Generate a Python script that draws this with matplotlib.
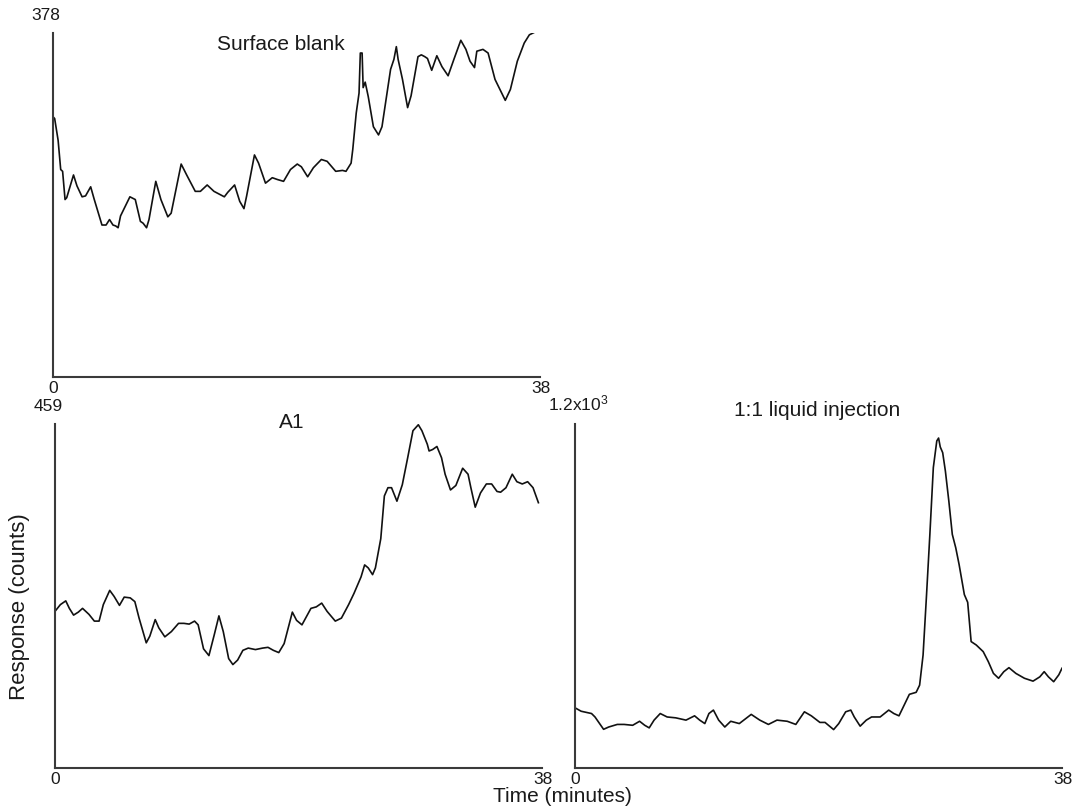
import matplotlib
matplotlib.use("Agg")
import matplotlib.pyplot as plt
import numpy as np

plt.rcParams['font.family'] = ['Liberation Sans', 'DejaVu Sans']
plt.rcParams['mathtext.default'] = 'regular'

# --- data (time in minutes, response in counts) ---
blank_t = [0, 0.13, 0.4, 0.6, 0.75, 0.94, 1.07, 1.6, 1.87, 2.27, 2.54, 2.94, 3.2,
           3.82, 4.14, 4.41, 4.68, 4.89, 5.08, 5.27, 6.0, 6.42, 6.82, 7.03, 7.3,
           7.49, 8.02, 8.42, 8.96, 9.22, 10.0, 10.43, 11.1, 11.5, 12.03, 12.56,
           13.37, 13.64, 14.17, 14.57, 14.9, 15.11, 15.72, 16.04, 16.58, 17.11,
           17.51, 17.99, 18.53, 19.06, 19.38, 19.87, 20.32, 20.94, 21.39, 22.06,
           22.59, 22.86, 23.26, 23.39, 23.66, 23.88, 23.98, 24.12, 24.2, 24.36,
           24.6, 25.0, 25.4, 25.67, 26.34, 26.6, 26.79, 26.93, 27.27, 27.67,
           27.94, 28.48, 28.74, 29.01, 29.22, 29.55, 29.95, 30.35, 30.83, 31.28,
           31.82, 32.22, 32.54, 32.89, 33.07, 33.55, 33.95, 34.49, 35.29, 35.69,
           36.23, 36.77, 37.17, 37.6, 38.0]
blank_y = [286, 284, 260, 228, 226, 195, 197, 222, 210, 198, 199, 209, 196, 167,
           167, 173, 167, 166, 164, 177, 198, 195, 171, 169, 164, 173, 215, 195,
           176, 180, 234, 222, 204, 204, 211, 204, 198, 203, 211, 193, 185, 199,
           244, 235, 213, 219, 217, 215, 228, 234, 231, 220, 230, 239, 237, 226,
           227, 226, 235, 250, 290, 312, 356, 356, 318, 324, 308, 275, 266, 275,
           338, 349, 363, 349, 327, 296, 309, 352, 354, 352, 350, 337, 353, 341,
           331, 349, 370, 360, 347, 340, 358, 360, 356, 327, 304, 316, 347, 367,
           376, 379, 380]

a1_t = [0, 0.42, 0.84, 1.12, 1.45, 1.82, 2.15, 2.65, 3.07, 3.44, 3.77, 4.27,
        4.61, 5.03, 5.4, 5.87, 6.23, 6.56, 7.12, 7.4, 7.82, 8.1, 8.57, 9.08, 9.64,
        10.06, 10.47, 10.89, 11.17, 11.59, 12.01, 12.43, 12.79, 13.13, 13.55,
        13.88, 14.25, 14.66, 15.08, 15.64, 16.2, 16.62, 17.04, 17.46, 17.88,
        18.52, 18.85, 19.27, 19.97, 20.39, 20.81, 21.23, 21.87, 22.35, 22.91,
        23.33, 23.88, 24.16, 24.44, 24.78, 25.0, 25.42, 25.7, 25.98, 26.26,
        26.68, 27.1, 27.52, 27.93, 28.35, 28.63, 29.05, 29.19, 29.47, 29.8,
        30.16, 30.44, 30.86, 31.28, 31.81, 32.23, 32.45, 32.79, 33.2, 33.66,
        34.07, 34.49, 34.77, 35.19, 35.68, 36.04, 36.46, 36.88, 37.3, 37.72]
a1_y = [209, 218, 223, 213, 204, 208, 213, 205, 196, 196, 218, 237, 229, 217,
        228, 227, 222, 200, 167, 176, 198, 187, 175, 182, 193, 193, 192, 196,
        191, 159, 150, 178, 203, 182, 146, 138, 144, 157, 160, 158, 160, 161,
        157, 154, 166, 208, 197, 191, 213, 215, 220, 209, 196, 200, 218, 233,
        255, 271, 267, 258, 267, 306, 363, 374, 374, 356, 378, 414, 450, 458,
        450, 432, 423, 425, 429, 414, 392, 371, 377, 400, 392, 374, 348, 367,
        379, 379, 369, 368, 374, 392, 382, 379, 382, 374, 354]

liq_t = [0, 0.48, 1.29, 1.56, 2.23, 2.63, 3.3, 3.83, 4.5, 5.04, 5.44, 5.79, 6.17,
         6.65, 7.19, 7.86, 8.66, 9.33, 9.73, 10.13, 10.45, 10.8, 11.21, 11.69,
         12.15, 12.82, 13.75, 14.42, 15.09, 15.76, 16.56, 17.23, 17.9, 18.44,
         19.11, 19.51, 20.18, 20.58, 21.12, 21.52, 21.79, 22.25, 22.73, 23.14,
         23.81, 24.48, 24.88, 25.28, 25.68, 26.09, 26.62, 26.89, 27.16, 27.43,
         27.69, 27.96, 28.23, 28.37, 28.5, 28.69, 28.9, 29.17, 29.44, 29.71,
         29.97, 30.38, 30.64, 30.91, 31.31, 31.85, 32.25, 32.65, 33.05, 33.46,
         33.86, 34.4, 35.07, 35.74, 36.27, 36.61, 36.94, 37.35, 37.75, 38.0]
liq_y = [210, 198, 190, 178, 135, 143, 152, 152, 149, 163, 149, 140, 167, 190,
         178, 175, 167, 182, 167, 155, 190, 202, 167, 143, 163, 155, 187, 167,
         152, 167, 163, 152, 196, 182, 159, 159, 134, 155, 196, 202, 178, 146,
         167, 178, 178, 202, 190, 182, 219, 257, 264, 289, 394, 604, 815, 1048,
         1141, 1151, 1120, 1100, 1036, 931, 815, 768, 710, 605, 578, 441, 429,
         406, 371, 330, 313, 336, 350, 330, 313, 303, 318, 336, 318, 301, 325,
         348]

t_max = 38
panels = [
    # (times, counts, y max, y max label, title)
    (blank_t, blank_y, 378, "378", "Surface blank"),
    (a1_t, a1_y, 459, "459", "A1"),
    (liq_t, liq_y, 1200, "1.2x10$^3$", "1:1 liquid injection"),
]

W, H = 1074, 807
fig = plt.figure(figsize=(W / 100, H / 100), dpi=100)

# axes boxes in pixels: left, top, right, bottom
boxes = [(53, 33, 540, 377), (55, 424, 542, 768), (575, 424, 1062, 768)]
# title centres in pixels
title_pos = [(281, 44), (292, 423), (817, 410)]

txt_col = "#1a1a1a"
for (t, y, ymax, ylab, title), (l, tp, r, b), (tx, ty) in zip(panels, boxes, title_pos):
    ax = fig.add_axes([l / W, 1 - b / H, (r - l) / W, (b - tp) / H])
    ax.plot(t, y, color="#111111", lw=1.2, solid_joinstyle="round")
    ax.set_xlim(0, t_max)
    ax.set_ylim(0, ymax)
    for s in ("top", "right"):
        ax.spines[s].set_visible(False)
    for s in ("left", "bottom"):
        ax.spines[s].set_color("#3a3a3a")
        ax.spines[s].set_linewidth(1.5)
    ax.set_xticks([])
    ax.set_yticks([])
    ax.patch.set_visible(False)

    # end labels
    ax.text(0, -0.012, "0", transform=ax.transAxes, ha="center", va="top",
            fontsize=12.5, color=txt_col)
    ax.text(1.003, -0.012, str(t_max), transform=ax.transAxes, ha="center", va="top",
            fontsize=12.5, color=txt_col)
    ax.text(-0.015 if ymax < 1000 else 0.006, 1.03, ylab, transform=ax.transAxes,
            ha="center", va="bottom", fontsize=12.5, color=txt_col)
    fig.text(tx / W, 1 - ty / H, title, ha="center", va="center",
             fontsize=15, color=txt_col)

fig.text(20 / W, 1 - 607 / H, "Response (counts)", rotation=90, ha="center",
         va="center", fontsize=16, color=txt_col)
fig.text(562 / W, 1 - 797 / H, "Time (minutes)", ha="center", va="center",
         fontsize=15, color=txt_col)

fig.savefig("out.png", dpi=100)
